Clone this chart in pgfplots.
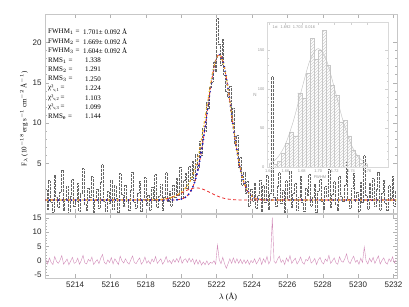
\documentclass[border=0pt]{standalone}
\usepackage{fontspec}
\setmainfont{Liberation Sans}
\newfontfamily\serif{Liberation Serif}
\usepackage{pgfplots}
\usepackage{pgfplotstable}
\pgfplotsset{compat=1.18}
\usetikzlibrary{patterns}
\definecolor{fitblue}{RGB}{20,30,190}
\definecolor{fityellow}{RGB}{245,205,30}
\definecolor{fitorange}{RGB}{240,140,40}
\definecolor{fitred}{RGB}{235,45,45}
\definecolor{respink}{RGB}{210,140,185}

\pgfplotstableread{
x y r
5212.35 1.8 0.4
5212.45 -0.6 -1.1
5212.55 2.9 1.0
5212.65 0.2 -0.6
5212.75 -1.0 -1.3
5212.85 3.6 1.5
5212.95 0.9 -0.2
5213.05 -0.4 -0.9
5213.15 1.5 0.2
5213.25 4.2 1.8
5213.35 -0.8 -1.2
5213.45 0.6 -0.3
5213.55 2.2 0.6
5213.65 -1.1 -1.4
5213.75 1.0 -0.1
5213.85 3.1 1.2
5213.95 -0.3 -0.9
5214.05 0.4 -0.5
5214.15 2.6 0.9
5214.25 -0.9 -1.2
5214.35 1.3 0.1
5214.45 4.4 1.9
5214.55 0.0 -0.7
5214.65 -0.7 -1.1
5214.75 2.0 0.5
5214.85 0.8 -0.2
5214.95 3.4 1.3
5215.05 -1.0 -1.3
5215.15 0.5 -0.4
5215.25 1.9 0.4
5215.35 -0.5 -1.0
5215.45 2.7 0.9
5215.55 4.9 2.2
5215.65 0.3 -0.5
5215.75 -0.9 -1.2
5215.85 1.6 0.3
5215.95 0.1 -0.6
5216.05 3.0 1.1
5216.15 -0.6 -1.1
5216.25 2.3 0.7
5216.35 0.7 -0.3
5216.45 -1.0 -1.3
5216.55 3.8 1.6
5216.65 1.2 0.0
5216.75 -0.2 -0.8
5216.85 2.4 0.7
5216.95 0.4 -0.5
5217.05 -0.8 -1.2
5217.15 1.7 0.3
5217.25 4.0 1.7
5217.35 0.2 -0.6
5217.45 -0.5 -1.0
5217.55 1.4 0.1
5217.65 2.8 1.0
5217.75 -0.9 -1.2
5217.85 0.6 -0.3
5217.95 3.3 1.3
5218.05 -0.1 -0.8
5218.15 1.1 0.0
5218.25 -0.7 -1.1
5218.35 2.1 0.6
5218.45 0.5 -0.4
5218.55 3.7 1.5
5218.65 -0.4 -0.9
5218.75 1.0 -0.1
5218.85 2.5 0.7
5218.95 -0.8 -1.2
5219.05 0.9 -0.2
5219.15 3.9 1.5
5219.25 0.3 -0.6
5219.35 1.6 0.1
5219.45 -0.2 -1.0
5219.55 2.4 0.5
5219.65 0.8 -0.5
5219.75 3.2 0.8
5219.85 1.1 -0.5
5219.95 4.6 1.5
5220.05 0.7 -0.9
5220.15 2.9 0.3
5220.25 3.8 0.7
5220.35 2.0 -0.6
5220.45 4.7 0.9
5220.55 3.1 -0.4
5220.65 5.3 0.7
5220.75 2.9 -1.2
5220.85 6.2 0.4
5220.95 4.5 -1.2
5221.05 7.8 0.2
5221.15 6.1 -1.5
5221.25 9.4 -0.4
5221.35 9.0 -1.4
5221.45 12.6 0.0
5221.55 11.8 -1.4
5221.65 14.5 -0.5
5221.75 15.1 -0.9
5221.85 17.6 0.0
5221.95 16.4 -1.2
5222.05 23.0 5.5
5222.15 19.8 0.4
5222.25 17.2 -1.0
5222.35 20.4 1.2
5222.45 15.9 -1.0
5222.55 13.9 -2.6
5222.65 13.2 -1.0
5222.75 14.6 0.7
5222.85 10.3 -0.9
5222.95 11.9 1.0
5223.05 7.4 -0.8
5223.15 8.5 0.7
5223.25 4.6 -0.9
5223.35 5.8 0.5
5223.45 2.4 -1.0
5223.55 3.9 0.3
5223.65 1.3 -0.9
5223.75 2.8 0.3
5223.85 -0.2 -1.3
5223.95 1.9 0.1
5224.05 0.4 -0.7
5224.15 2.6 0.7
5224.25 -0.5 -1.1
5224.35 1.1 -0.1
5224.45 3.0 1.1
5224.55 -0.9 -1.3
5224.65 2.3 0.7
5224.75 0.2 -0.6
5224.85 3.6 1.5
5224.95 -0.6 -1.1
5225.05 1.4 0.1
5225.15 15.8 15.0
5225.25 0.8 -0.2
5225.35 -0.3 -0.9
5225.45 2.2 0.6
5225.55 3.9 1.6
5225.65 0.1 -0.6
5225.75 1.7 0.3
5225.85 -1.0 -1.3
5225.95 2.9 1.0
5226.05 0.6 -0.3
5226.15 4.1 1.8
5226.25 -0.4 -0.9
5226.35 1.3 0.1
5226.45 2.6 0.9
5226.55 -0.7 -1.1
5226.65 0.9 -0.2
5226.75 3.4 1.3
5226.85 0.2 -0.6
5226.95 -0.9 -1.2
5227.05 2.0 0.5
5227.15 1.1 0.0
5227.25 3.7 1.5
5227.35 -0.2 -0.8
5227.45 0.8 -0.2
5227.55 2.5 0.8
5227.65 -1.0 -1.3
5227.75 1.6 0.3
5227.85 3.1 1.2
5227.95 0.4 -0.5
5228.05 -0.6 -1.1
5228.15 2.2 0.6
5228.25 0.9 -0.2
5228.35 4.3 1.9
5228.45 -0.4 -0.9
5228.55 1.2 0.0
5228.65 2.8 1.0
5228.75 0.0 -0.7
5228.85 -0.8 -1.2
5228.95 3.5 1.4
5229.05 1.0 -0.1
5229.15 0.3 -0.5
5229.25 2.4 0.7
5229.35 5.2 2.4
5229.45 0.6 -0.3
5229.55 -0.5 -1.0
5229.65 2.0 0.5
5229.75 3.8 1.6
5229.85 0.4 -0.5
5229.95 1.5 0.2
5230.05 -0.9 -1.2
5230.15 2.7 0.9
5230.25 0.2 -0.6
5230.35 6.0 4.8
5230.45 1.1 0.0
5230.55 -0.6 -1.1
5230.65 2.6 0.9
5230.75 0.5 -0.4
5230.85 3.2 1.2
5230.95 -0.3 -0.9
5231.05 1.8 0.4
5231.15 4.0 1.7
5231.25 -0.7 -1.1
5231.35 1.4 0.1
5231.45 2.9 1.0
5231.55 0.1 -0.6
5231.65 -0.8 -1.2
5231.75 2.3 0.7
5231.85 0.7 -0.3
5231.95 3.5 1.4
5232.05 -0.2 -0.8
5232.15 1.6 0.3
}\spec

\pgfplotstableread{
x blue yel brd
5212.30 0.50 0.50 0.50
5218.45 0.50 0.52 0.52
5218.65 0.50 0.53 0.53
5218.85 0.50 0.57 0.57
5218.95 0.50 0.59 0.59
5219.05 0.50 0.62 0.62
5219.15 0.50 0.66 0.66
5219.25 0.50 0.70 0.70
5219.35 0.50 0.76 0.76
5219.45 0.505 0.83 0.82
5219.55 0.51 0.91 0.90
5219.65 0.52 1.01 0.99
5219.75 0.535 1.12 1.08
5219.85 0.56 1.25 1.19
5219.95 0.60 1.40 1.30
5220.05 0.65 1.56 1.41
5220.15 0.74 1.76 1.52
5220.25 0.86 1.99 1.63
5220.35 1.04 2.27 1.73
5220.45 1.29 2.61 1.82
5220.55 1.63 3.03 1.90
5220.65 2.08 3.53 1.95
5220.75 2.66 4.15 1.99
5220.85 3.39 4.89 2.00
5220.95 4.29 5.78 1.99
5221.05 5.37 6.82 1.95
5221.15 6.61 8.01 1.90
5221.25 8.00 9.32 1.82
5221.35 9.51 10.74 1.73
5221.45 11.10 12.00 1.63
5221.55 12.70 13.40 1.52
5221.65 14.24 14.70 1.41
5221.75 15.64 15.90 1.30
5221.85 16.83 16.95 1.19
5221.95 17.74 17.80 1.08
5222.05 18.31 18.30 0.99
5222.15 18.50 18.45 0.90
5222.25 18.31 18.25 0.82
5222.35 17.74 17.65 0.76
5222.45 16.83 16.80 0.70
5222.55 15.64 15.64 0.66
5222.65 14.24 14.24 0.62
5222.75 12.70 12.70 0.59
5222.85 11.10 11.10 0.57
5222.95 9.51 9.51 0.55
5223.05 8.00 8.00 0.53
5223.15 6.61 6.61 0.52
5223.25 5.37 5.37 0.52
5223.35 4.29 4.29 0.51
5223.45 3.39 3.39 0.51
5223.55 2.66 2.66 0.50
5223.65 2.08 2.08 0.50
5223.75 1.63 1.63 0.50
5223.85 1.29 1.29 0.50
5223.95 1.04 1.04 0.50
5224.05 0.86 0.86 0.50
5224.15 0.74 0.74 0.50
5224.25 0.65 0.65 0.50
5224.35 0.60 0.60 0.50
5224.45 0.56 0.56 0.50
5224.55 0.535 0.535 0.50
5224.65 0.52 0.52 0.50
5224.75 0.51 0.51 0.50
5224.85 0.50 0.50 0.50
5232.20 0.50 0.50 0.50
}\model

\pgfplotsset{
  panel/.style={
    scale only axis,
    anchor=south west,
    xmin=5212.3, xmax=5232.2,
    xtick={5214,5216,...,5232},
    minor x tick num=3,
    minor y tick num=4,
    axis line style={black!22},
    every tick/.style={black!30},
    major tick length=4pt,
    minor tick length=2pt,
    tick align=inside,
    /pgf/number format/assume math mode=true,
    /pgf/number format/1000 sep={},
    tick label style={font=\fontsize{8}{9}\selectfont, text=black!85},
  }
}

\begin{document}
\begin{tikzpicture}
\useasboundingbox (0,0) rectangle (409pt,307pt);
\fill[white] (0,0) rectangle (409pt,307pt);

% ---------- top panel
\begin{axis}[panel,
  at={(45pt,94pt)}, width=352pt, height=199pt,
  ymin=-1.1, ymax=23.5,
  ytick={5,10,15,20},
  xticklabels={},
]
\addplot[black!60, line width=0.35pt, dash pattern=on 0.45pt off 0.9pt, const plot mark mid] table[x=x,y=y]{\spec};
\addplot[fitred, line width=0.8pt, dash pattern=on 3pt off 2.5pt] table[x=x,y=brd]{\model};
\addplot[fitred, line width=0.8pt, dash pattern=on 3pt off 2.5pt] table[x=x,y=blue]{\model};
\addplot[fitblue, line width=2.1pt, line cap=round, dash pattern=on 0pt off 4.4pt] table[x=x,y=blue]{\model};
\addplot[fityellow, line width=1.7pt, line cap=round, dash pattern=on 0pt off 4.4pt, dash phase=2.2pt] table[x=x,y=yel]{\model};
\addplot[fitorange, line width=0.9pt, dash pattern=on 1.5pt off 7pt, dash phase=1pt] table[x=x,y=yel]{\model};
\end{axis}

% ---------- residual panel
\begin{axis}[panel,
  at={(45pt,29pt)}, width=352pt, height=64pt,
  ymin=-6, ymax=16.3,
  ytick={-5,0,5,10,15},
  minor y tick num=4,
]
\addplot[respink, line width=0.4pt] table[x=x,y=r]{\spec};
\end{axis}

% ---------- inset
\begin{axis}[
  scale only axis, anchor=south west,
  at={(267pt,140pt)}, width=121pt, height=145pt,
  xmin=1.6376, xmax=1.785, ymin=0, ymax=186,
  xtick={1.64,1.66,1.68,1.70,1.72,1.74,1.76},
  xticklabels={1.64,1.66,1.68,1.70,1.72,1.74,1.76},
  ytick={0,50,100,150},
  minor x tick num=1, minor y tick num=4,
  axis line style={black!15},
  every tick/.style={black!18},
  major tick length=3pt, minor tick length=1.5pt,
  /pgf/number format/assume math mode=true,
  tick label style={font=\fontsize{4}{5}\selectfont, text=black!40},
  xticklabel style={yshift=1pt},
  yticklabel style={xshift=1pt},
]
\addplot[ybar interval, draw=black!22, line width=0.4pt, pattern=north east lines, pattern color=black!18] coordinates {
(1.645,3) (1.650,8) (1.655,18) (1.660,30) (1.665,45) (1.670,40) (1.675,95) (1.680,88)
(1.685,120) (1.690,165) (1.695,138) (1.700,150) (1.705,175) (1.710,130) (1.715,105)
(1.720,92) (1.725,58) (1.730,60) (1.735,40) (1.740,22) (1.745,15) (1.750,5) (1.755,2) (1.760,0)};
\addplot[black!25, line width=0.4pt, smooth] coordinates {
(1.640,3.7) (1.650,11.5) (1.660,29) (1.670,60) (1.680,100) (1.690,137) (1.700,152)
(1.710,137) (1.720,100) (1.730,60) (1.740,29) (1.750,11.5) (1.760,3.7)};
\end{axis}
\node[anchor=west, font=\fontsize{4}{5}\selectfont, text=black!40] at (269pt,280pt) {1σ:\ \ 1.692\ \ 1.703\ \ 0.016};
\node[font=\fontsize{4}{5}\selectfont, text=black!40] at (320pt,130pt) {FWHM};
\node[font=\fontsize{4.5}{5}\selectfont, text=black!40] at (255pt,212pt) {N};

% ---------- annotations
\begin{scope}[every node/.style={anchor=west, inner sep=0pt, font=\serif\fontsize{7}{8}\selectfont}]
\node at (48pt,275pt) {FWHM$_1$ =};
\node at (48pt,265.6pt) {FWHM$_2$ =};
\node at (48pt,256.2pt) {FWHM$_3$ =};
\node at (48pt,246.8pt) {RMS$_1$ =};
\node at (48pt,237.4pt) {RMS$_2$ =};
\node at (48pt,228pt) {RMS$_3$ =};
\node at (48pt,218.6pt) {χ²\raisebox{-1.3pt}{\fontsize{4.5}{5}\selectfont ν,1} =};
\node at (48pt,209.2pt) {χ²\raisebox{-1.3pt}{\fontsize{4.5}{5}\selectfont ν,2} =};
\node at (48pt,199.8pt) {χ²\raisebox{-1.3pt}{\fontsize{4.5}{5}\selectfont ν,3} =};
\node at (48pt,190.4pt) {RMS$_\mathrm{e}$ =};
\node at (83pt,275pt) {1.701± 0.092 Å};
\node at (83pt,265.6pt) {1.669± 0.092 Å};
\node at (83pt,256.2pt) {1.604± 0.092 Å};
\node at (85pt,246.8pt) {1.338};
\node at (85pt,237.4pt) {1.291};
\node at (85pt,228pt) {1.250};
\node at (85pt,218.6pt) {1.224};
\node at (85pt,209.2pt) {1.103};
\node at (85pt,199.8pt) {1.099};
\node at (85pt,190.4pt) {1.144};
\end{scope}

% axis labels
\node[rotate=90, font=\serif\fontsize{7}{8}\selectfont] at (24pt,188pt) {F$_\lambda$ (10$^{-18}$ erg s$^{-1}$ cm$^{-2}$ Å$^{-1}$)};
\node[font=\serif\fontsize{8}{9}\selectfont] at (228pt,10pt) {$\lambda$ (Å)};
\end{tikzpicture}
\end{document}
